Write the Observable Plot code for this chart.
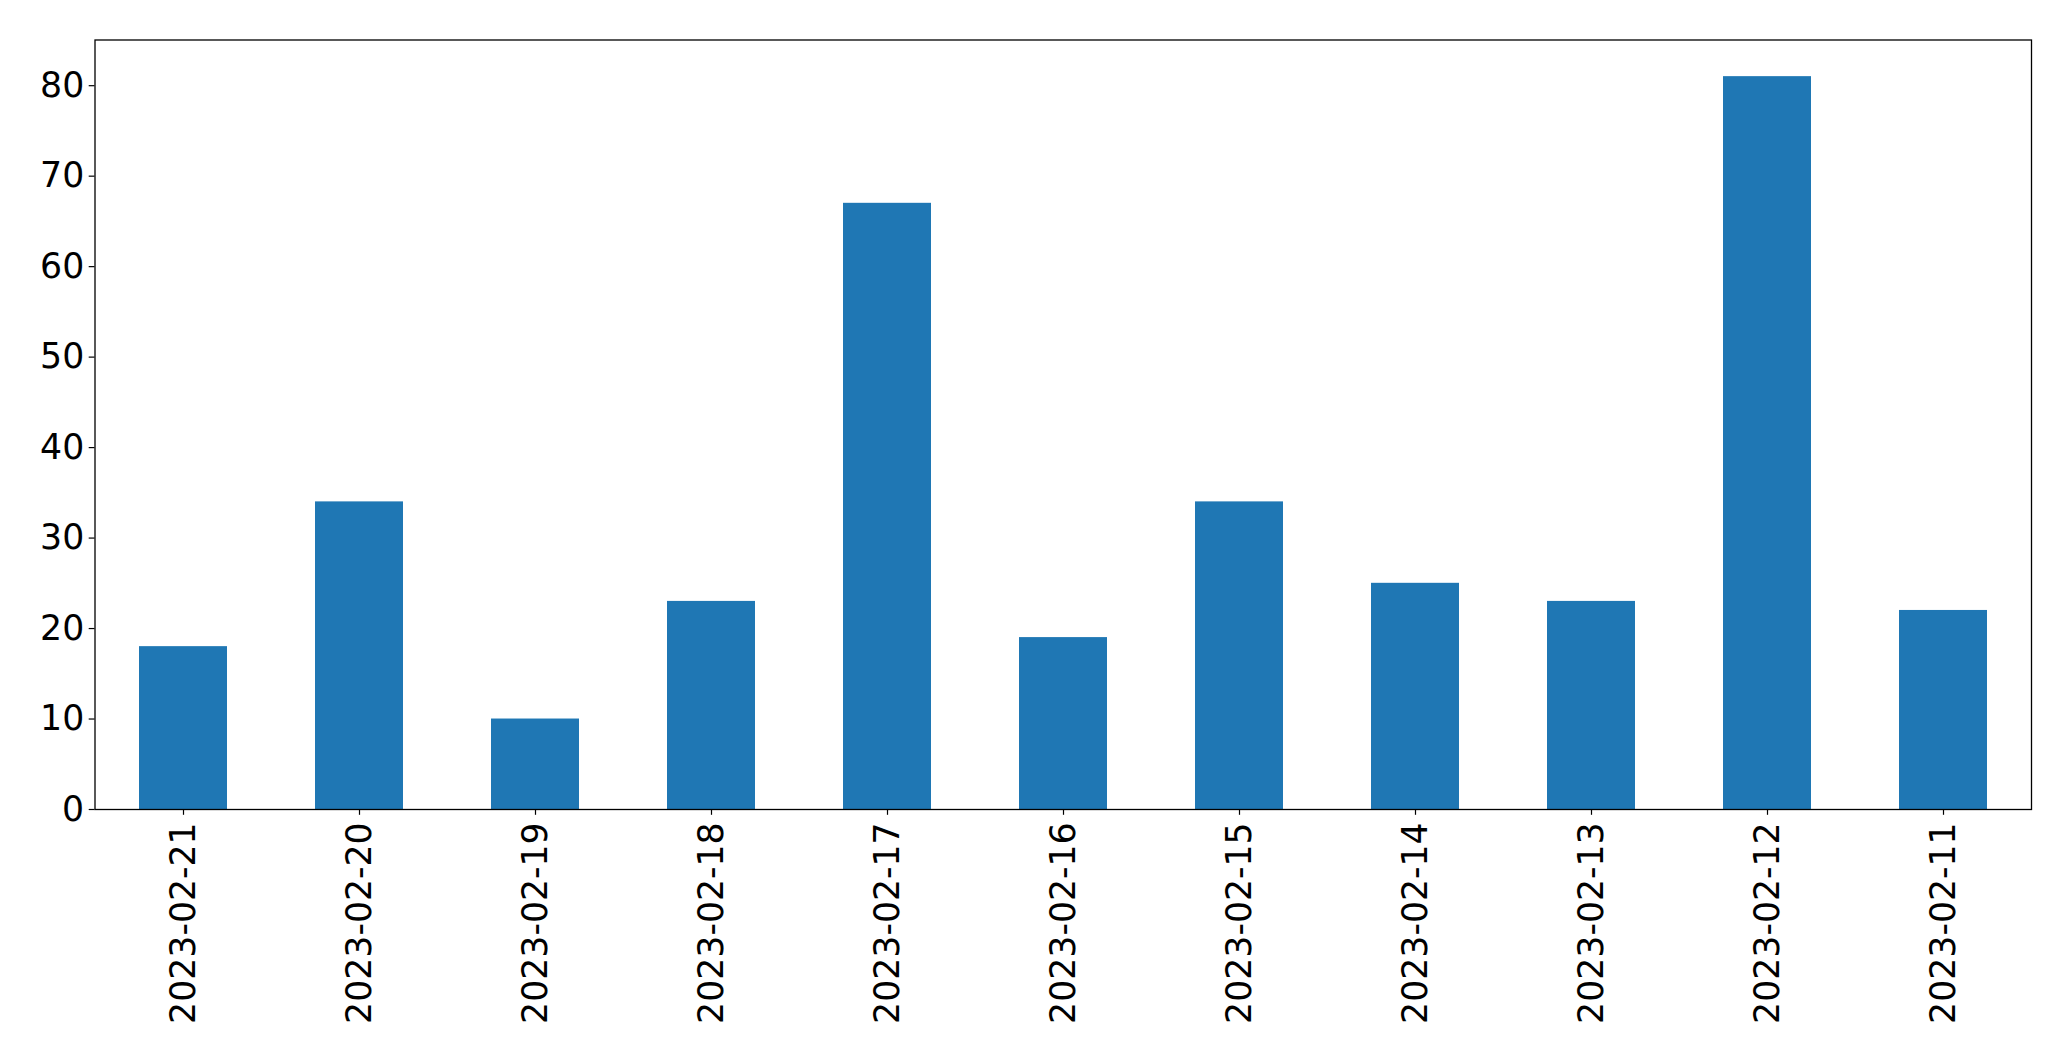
<!DOCTYPE html>
<html>
<head>
<meta charset="utf-8">
<script src="https://cdn.jsdelivr.net/npm/d3@7"></script>
<script src="https://cdn.jsdelivr.net/npm/@observablehq/plot@0.6"></script>
<style>
  html, body { margin: 0; padding: 0; background: #fff; }
  #chart svg { display: block; }
</style>
</head>
<body>
<div id="chart"></div>
<script>
const dates = ["2023-02-21","2023-02-20","2023-02-19","2023-02-18","2023-02-17","2023-02-16","2023-02-15","2023-02-14","2023-02-13","2023-02-12","2023-02-11"];
const counts = [18, 34, 10, 23, 67, 19, 34, 25, 23, 81, 22];
const yTicks = [0, 10, 20, 30, 40, 50, 60, 70, 80];

const data = dates.map((d, i) => ({date: d, count: counts[i]}));

const chart = Plot.plot({
  width: 2071,
  height: 1061,
  marginLeft: 94.5,
  marginRight: 40,
  marginTop: 39.5,
  marginBottom: 252,
  style: {fontFamily: "DejaVu Sans", background: "#fff", color: "#000"},
  x: {type: "band", domain: dates, paddingInner: 0.5, paddingOuter: 0.25, align: 0.5, label: null},
  y: {domain: [0, 85.05], label: null},
  marks: [
    Plot.barY(data, {x: "date", y: "count", fill: "#1f77b4"}),
    Plot.frame({stroke: "#000", strokeWidth: 1.3}),
    Plot.axisY({ticks: yTicks, tickSize: 5.8, tickPadding: 5, fontSize: 34.7, label: null, stroke: "#000", strokeWidth: 1.2, fill: "#000"}),
    Plot.axisX({tickSize: 5.8, tickPadding: 7, fontSize: 34.7, tickRotate: -90, label: null, stroke: "#000", strokeWidth: 1.2, fill: "#000"})
  ]
});
document.getElementById("chart").appendChild(chart);
</script>
</body>
</html>
